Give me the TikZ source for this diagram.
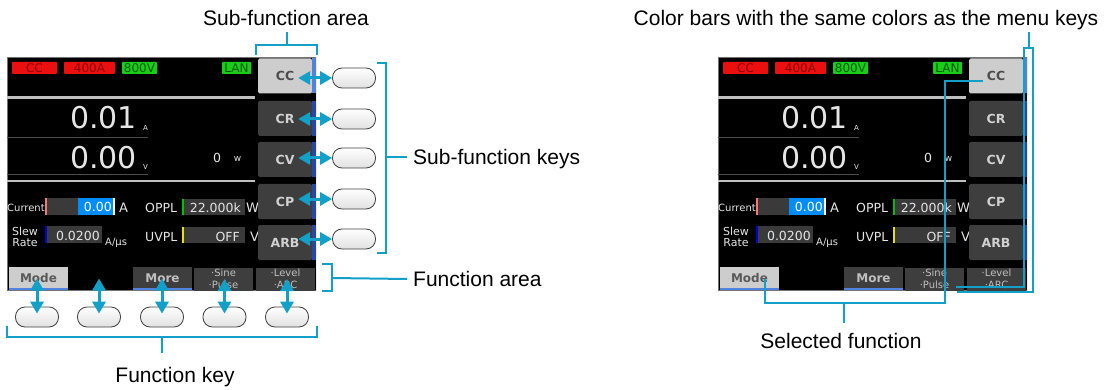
\documentclass[tikz,border=0pt]{standalone}
\usepackage{fontspec}
\setmainfont{Liberation Sans}
\newfontfamily\lcdfont{DejaVu Sans}
\usetikzlibrary{arrows.meta,calc}

\definecolor{callout}{RGB}{18,160,200}
\definecolor{keygray}{RGB}{62,62,62}
\definecolor{selgray}{RGB}{205,205,205}
\definecolor{barblue}{RGB}{80,130,225}
\definecolor{navybar}{RGB}{40,70,170}
\definecolor{boxgray}{RGB}{58,58,58}
\definecolor{badgered}{RGB}{235,15,15}
\definecolor{badgegreen}{RGB}{25,205,25}
\definecolor{valblue}{RGB}{0,140,250}

\tikzset{
  callouttext/.style={font=\fontsize{21}{24}\selectfont, inner sep=0pt, text depth=0pt},
  markline/.style={draw=callout, line width=2pt},
  dblarrow/.style={{Triangle[length=12pt,width=13pt]}-{Triangle[length=12pt,width=13pt]}, draw=callout, fill=callout, line width=3pt},
  okey/.style={draw=black!75, line width=0.8pt, rounded corners=9.5pt, minimum width=43pt, minimum height=20pt, top color=white, bottom color=black!12, inner sep=0pt},
  lcd/.style={font=\lcdfont\fontsize{12.5}{15}\selectfont, text=white!90!black, inner sep=0pt},
  badge/.style={font=\lcdfont\fontsize{12}{13}\selectfont, minimum height=12pt, inner sep=0pt, rounded corners=1pt},
  subkey/.style={font=\lcdfont\bfseries\fontsize{12.5}{14}\selectfont, fill=keygray, text=white!82!black, minimum width=54pt, minimum height=35pt, inner sep=0pt, rounded corners=1.5pt},
  fkey/.style={font=\lcdfont\bfseries\fontsize{12}{14}\selectfont, fill=keygray, text=white!75!black, minimum width=59pt, minimum height=23pt, inner sep=0pt, align=center},
}

\begin{document}
\begin{tikzpicture}[x=1pt, y=-1pt] % pixel grid, y runs down
    \useasboundingbox (0,0) rectangle (1118,390);

    % The two screens (left: keys, right: colour bars)
    \foreach \sx/\s in {0/L,711/R}{
    \begin{scope}[xshift=\sx]
      \clip (7,57) rectangle (316,290);
      \fill[black] (7,57) rectangle (316,290);
      \draw[black!55, line width=0.8pt] (7,57) rectangle (316,290);

      % status bar
      \node[badge, fill=badgered, text=red!55!black, minimum width=45pt] (st1\s) at (34.5,68) {CC};
      \node[badge, fill=badgered, text=red!55!black, minimum width=51pt] (st2\s) at (89.5,68) {400A};
      \node[badge, fill=badgegreen, text=green!35!black, minimum width=35pt] (st3\s) at (139.5,68) {800V};
      \node[badge, fill=badgegreen, text=green!35!black, minimum width=29pt] (st4\s) at (236.5,68) {LAN};

      % measured values
      \draw[white!75!black, line width=2.5pt] (7,97.5) -- (255,97.5);
      \draw[white!75!black, line width=2.5pt] (7,181) -- (255,181);
      \draw[black!70!white, line width=1pt] (7,138) -- (148,138);
      \draw[black!70!white, line width=1pt] (7,175) -- (148,175);
      \node[lcd, font=\lcdfont\fontsize{30}{32}\selectfont, anchor=base east] (cur\s) at (137,129) {0.01};
      \node[lcd, font=\lcdfont\fontsize{7}{8}\selectfont, anchor=base west] (curu\s) at (143,131) {A};
      \node[lcd, font=\lcdfont\fontsize{30}{32}\selectfont, anchor=base east] (vol\s) at (137,168) {0.00};
      \node[lcd, font=\lcdfont\fontsize{7}{8}\selectfont, anchor=base west] (volu\s) at (143,170) {V};
      \node[lcd, anchor=base] (pow\s) at (217,163) {0};
      \node[lcd, font=\lcdfont\fontsize{9}{10}\selectfont, anchor=base] (powu\s) at (237.5,162) {w};

      % settings
      \node[lcd, font=\lcdfont\fontsize{10}{12}\selectfont, anchor=base west] (setc\s) at (7,211.5) {Current};
      \fill[boxgray] (45,198) rectangle (115,215);
      \fill[valblue] (78,198) rectangle (113,215);
      \fill[red!55] (44.5,198) rectangle (46.5,215);
      \fill[white] (113,198) rectangle (114.5,215);
      \node[lcd, text=white, anchor=base east] (setcv\s) at (112,211.5) {0.00};
      \node[lcd, font=\lcdfont\fontsize{13}{15}\selectfont, anchor=base west] (setcu\s) at (119,212) {A};

      \node[lcd, font=\lcdfont\fontsize{11}{13}\selectfont, align=center] (sets\s) at (25,237) {Slew\\[-2pt]Rate};
      \fill[boxgray] (45,226) rectangle (102,243);
      \fill[blue!85!black] (44.5,226) rectangle (46.5,243);
      \node[lcd, anchor=base east] (setsv\s) at (100,240) {0.0200};
      \node[lcd, font=\lcdfont\fontsize{10}{12}\selectfont, anchor=base west] (setsu\s) at (105,245.5) {A/µs};

      \node[lcd, anchor=base west] (seto\s) at (145,212) {OPPL};
      \fill[boxgray] (183,199) rectangle (245,215);
      \fill[green!75!black] (181.5,199) rectangle (183.5,215);
      \node[lcd, anchor=base east] (setov\s) at (241,212) {22.000k};
      \node[lcd, font=\lcdfont\fontsize{13}{15}\selectfont, anchor=base west] (setou\s) at (246,212) {W};

      \node[lcd, anchor=base west] (setu\s) at (145,241.5) {UVPL};
      \fill[boxgray] (183,227) rectangle (245,243);
      \fill[yellow!90!black] (181.5,227) rectangle (183.5,243);
      \node[lcd, anchor=base east] (setuv\s) at (240,241.5) {OFF};
      \node[lcd, font=\lcdfont\fontsize{13}{15}\selectfont, anchor=base west] (setuu\s) at (250,241.5) {V};

      % sub-function area
      \node[subkey, fill=selgray, text=black!70] (sk\s1) at (285,76) {CC};
      \fill[barblue] (312,58.5) rectangle (315.5,93.5);
      \foreach \i/\k/\y in {2/CR/118.5, 3/CV/159.5, 4/CP/201.5, 5/ARB/242.5}{
        \node[subkey] (sk\s\i) at (285,\y) {\k};
        \fill[navybar] (312,\y-17.5) rectangle (315.5,\y+17.5);
      }

      % function area
      \node[fkey, fill=selgray, text=black!65] (fn\s1) at (38.5,278.5) {Mode};
      \fill[barblue] (9,287.5) rectangle (68,290);
      \node[fkey] (fn\s3) at (162.5,278.5) {More};
      \fill[barblue] (133,287.5) rectangle (192,290);
      \foreach \j/\x/\t in {4/223.5/{·Sine\\·Pulse}, 5/285.5/{·Level\\·ARC}}{
        \node[fkey, font=\lcdfont\fontsize{10}{12}\selectfont] (fn\s\j) at (\x,279) {\t};
      }
    \end{scope}
    }

    % Sub-function keys and arrows
    \foreach \i/\y in {1/78, 2/119, 3/158, 4/199, 5/239}{
      \node[okey] (ok\i) at (354,\y) {};
      \draw[dblarrow] ($(ok\i.west -| skL\i.east)+(-14,0)$) -- (ok\i.west);
    }

    % Function keys and arrows
    \coordinate (fnL2) at (99,278.5); % empty slot
    \foreach \i/\x in {1/37, 2/99, 3/162, 4/224.5, 5/287}{
      \node[okey] (fk\i) at (\x,317) {};
      \draw[dblarrow] ([yshift=-7pt]fk\i.north) -- (fk\i.north |- fnL\i.center);
    }

    % Labels
    \node[callouttext, anchor=base] (lblsfa) at (286,26) {Sub-function area};
    \node[callouttext, anchor=west] (lblsfk) at (413,157) {Sub-function keys};
    \node[callouttext, anchor=west] (lblfa) at (413,279) {Function area};
    \node[callouttext, anchor=base] (lblfk) at (175,382) {Function key};
    \node[callouttext, anchor=base] (lblcb) at (866,26) {Color bars with the same colors as the menu keys};
    \node[callouttext, anchor=base] (lblsel) at (841,348) {Selected function};

    % Brackets, left screen
    \draw[markline] (256,55) |- (317,45) -- (317,55);
    \draw[markline] (286.5,45) -- ++(0,-13);
    \draw[markline] (377,63) -| (386,253) -- (377,253);
    \draw[markline] (386,157) -- ([xshift=-6pt]lblsfk.west);
    \draw[markline] (322,264) -| (332,291) -- (322,291);
    \draw[markline] (332,278) -- ([xshift=-6pt]lblfa.west);
    \draw[markline] (7,326) |- (317,337) -- (317,326);
    \draw[markline] (162,337) -- ++(0,16);

    % Callouts, right screen
    \draw[markline] (956,287) -| (1024,48) -| (1033,292) -- (957,292);
    \draw[markline] (1028.5,48) -- ++(0,-16);
    \draw[markline] ([xshift=15pt]fnR1.center) |- (945,303) |- ([xshift=-13pt,yshift=-5pt]skR1.center);
    \draw[markline] (844,303) -- ++(0,20);

\end{tikzpicture}
\end{document}
